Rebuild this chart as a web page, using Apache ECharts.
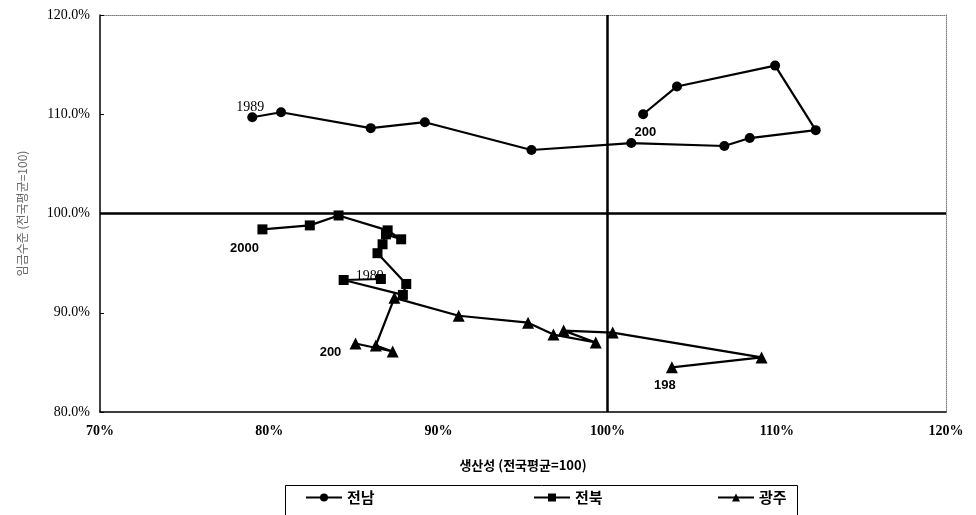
<!DOCTYPE html>
<html>
<head>
<meta charset="utf-8">
<script src="https://cdn.jsdelivr.net/npm/echarts@6/dist/echarts.min.js"></script>
<style>html,body{margin:0;padding:0;background:#fff}#c{width:976px;height:515px}</style>
</head>
<body>
<div id="c"></div>
<script>
const seriesNames = ['전남', '전북', '광주'];
const xTicks = [70, 80, 90, 100, 110, 120];
const yTicks = [80, 90, 100, 110, 120];
// [productivity %, level %], 1989 -> 2000
const jeonnam = [[79.0,109.7],[80.7,110.2],[86.0,108.6],[89.2,109.2],[95.5,106.4],[101.4,107.1],[106.9,106.8],[108.4,107.6],[112.3,108.4],[109.9,114.9],[104.1,112.8],[102.1,110.0]];
const jeonbuk = [[86.6,93.4],[84.4,93.3],[87.9,91.8],[88.1,92.9],[86.4,96.0],[86.7,96.9],[86.9,97.9],[87.8,97.4],[87.0,98.3],[84.1,99.8],[82.4,98.8],[79.6,98.4]];
const gwangju = [[103.8,84.5],[109.1,85.5],[100.3,88.0],[97.4,88.2],[99.3,87.0],[96.8,87.8],[95.3,89.0],[91.2,89.7],[87.4,91.5],[86.3,86.7],[87.3,86.1],[85.1,86.9]];
// point labels: [series index, point index, text]
const pointLabels = [[0,0,'1989'],[0,5,'200'],[1,0,'1989'],[1,11,'2000'],[2,0,'198'],[2,11,'200']];
const labelStyle = {
  '0-0': {offset:[-2,-10], fontFamily:'Liberation Serif', fontWeight:'normal', fontSize:14},
  '0-5': {offset:[14,-11], fontFamily:'Liberation Sans', fontWeight:'bold', fontSize:13},
  '1-0': {offset:[-11,-3], fontFamily:'Liberation Serif', fontWeight:'normal', fontSize:14},
  '1-11': {offset:[-18,19], fontFamily:'Liberation Sans', fontWeight:'bold', fontSize:13},
  '2-0': {offset:[-7,18], fontFamily:'Liberation Sans', fontWeight:'bold', fontSize:13},
  '2-11': {offset:[-25,9], fontFamily:'Liberation Sans', fontWeight:'bold', fontSize:13}
};
function build(si, arr){
  return arr.map((p, i) => {
    const lab = pointLabels.find(l => l[0] === si && l[1] === i);
    if (!lab) return p;
    const st = labelStyle[si + '-' + i];
    return {value: p, label: Object.assign({show:true, position:'inside', formatter: lab[2], color:'#000'}, st)};
  });
}
const chart = echarts.init(document.getElementById('c'));
const symbols = ['circle', 'rect', 'triangle'];
const sizes = [10, 10, 12];
const datas = [jeonnam, jeonbuk, gwangju];
const series = datas.map((d, si) => ({
  name: seriesNames[si], type: 'line', data: build(si, d), symbol: symbols[si], symbolSize: sizes[si],
  itemStyle: {color: '#000'}, lineStyle: {color: '#000', width: 2.2}, z: 3, animation: false,
  markLine: si === 0 ? {silent: true, symbol: 'none', label: {show: false},
    lineStyle: {color: '#000', width: 2.5, type: 'solid'},
    data: [{xAxis: 100}, {yAxis: 100}]} : undefined
}));
const legendLefts = [305, 533, 717];
const legends = seriesNames.map((n, i) => ({
  data: [n], left: legendLefts[i], top: 490, itemWidth: 36, itemHeight: 10, padding: 0,
  textStyle: {fontFamily: 'Noto Sans CJK KR', fontWeight: 'bold', fontSize: 15, color: '#000'}
}));
chart.setOption({
  animation: false,
  grid: {left: 100, right: 30, top: 15, bottom: 103},
  xAxis: [{
    type: 'value', min: xTicks[0], max: xTicks[xTicks.length-1], interval: 10,
    axisLine: {lineStyle: {color: '#000', width: 1.5}}, axisTick: {show: false}, splitLine: {show: false},
    axisLabel: {formatter: '{value}%', color: '#000', fontFamily: 'Liberation Serif', fontWeight: 'bold', fontSize: 14, margin: 12},
    name: '생산성 (전국평균=100)', nameLocation: 'middle', nameGap: 47,
    nameTextStyle: {fontFamily: 'Noto Sans CJK KR', fontWeight: 'bold', fontSize: 13, color: '#000'}
  }, {
    type: 'value', position: 'top', min: 70, max: 120, interval: 10,
    axisLine: {show: true, lineStyle: {color: '#777', width: 1, type: 'dotted'}},
    axisTick: {show: false}, axisLabel: {show: false}, splitLine: {show: false}
  }],
  yAxis: [{
    type: 'value', min: yTicks[0], max: yTicks[yTicks.length-1], interval: 10,
    axisLine: {show: true, lineStyle: {color: '#000', width: 1.5}},
    axisTick: {show: true, inside: true, length: 4, lineStyle: {color: '#000'}}, splitLine: {show: false},
    axisLabel: {formatter: v => v.toFixed(1) + '%', color: '#000', fontFamily: 'Liberation Serif', fontSize: 14, margin: 10},
    name: '임금수준 (전국평균=100)', nameLocation: 'middle', nameGap: 72,
    nameTextStyle: {fontFamily: 'Noto Sans CJK KR', fontSize: 12, color: '#666'}
  }, {
    type: 'value', position: 'right', min: 80, max: 120, interval: 10,
    axisLine: {show: true, lineStyle: {color: '#777', width: 1, type: 'dotted'}},
    axisTick: {show: false}, axisLabel: {show: false}, splitLine: {show: false}
  }],
  legend: legends,
  graphic: [{type: 'rect', left: 283, top: 483, shape: {width: 512, height: 40},
    style: {fill: 'none', stroke: '#000', lineWidth: 1}, silent: true}],
  series: series
});
</script>
</body>
</html>
